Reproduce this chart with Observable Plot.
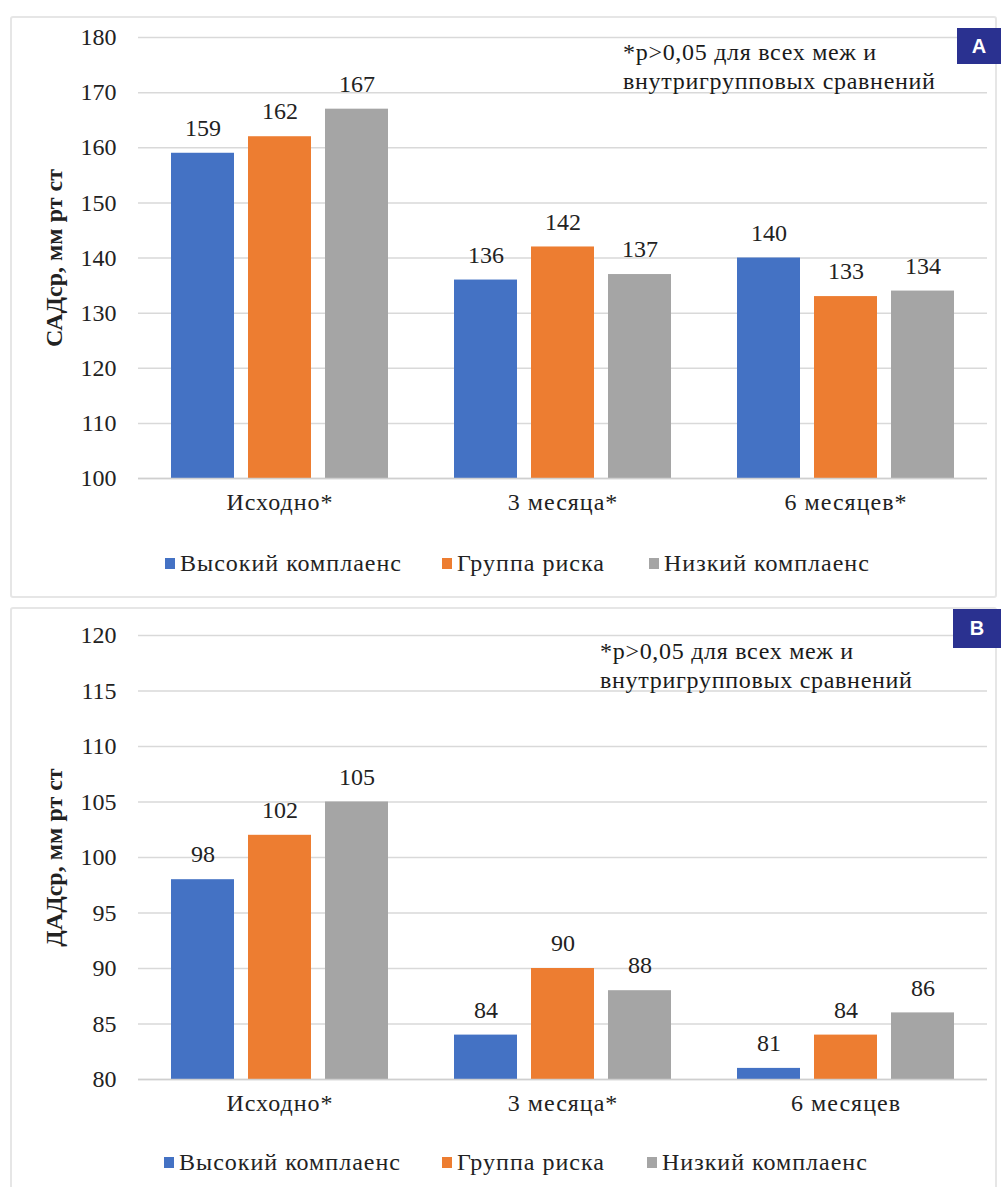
<!DOCTYPE html>
<html><head><meta charset="utf-8">
<script src="https://cdn.jsdelivr.net/npm/d3@7"></script>
<script src="https://cdn.jsdelivr.net/npm/@observablehq/plot@0.6"></script>
<style>
body{margin:0;background:#fff;}
#root{position:relative;width:1001px;height:1187px;overflow:hidden;font-family:"Liberation Serif","Times New Roman",serif;color:#222;}
.panel{position:absolute;left:10px;width:987px;border:2px solid #e6e6e6;border-radius:3px;box-sizing:border-box;}
.chart{position:absolute;left:0;}
.note{position:absolute;font-size:24px;line-height:29px;letter-spacing:0.7px;white-space:nowrap;color:#1a1a1a;}
.badge{position:absolute;background:#2a3190;color:#fff;font-family:"Liberation Sans",Arial,sans-serif;font-weight:bold;font-size:20px;display:flex;align-items:center;justify-content:center;}
.leg{position:absolute;display:flex;align-items:center;font-size:24px;letter-spacing:1px;line-height:30px;white-space:nowrap;color:#222;}
.sw{width:10px;height:11px;margin-right:5px;}
g[aria-label="fx-axis tick label"] text{letter-spacing:1px;}
</style>
</head><body>
<div id="root">
  <div class="panel" style="top:16px;height:582px;"></div>
  <div class="panel" style="top:607px;height:600px;"></div>
  <div class="chart" id="chartA" style="top:0px;"></div>
  <div class="chart" id="chartB" style="top:600px;"></div>
  <div class="note" style="left:623px;top:38px;">*p&gt;0,05 для всех меж и<br>внутригрупповых сравнений</div>
  <div class="note" style="left:600px;top:637px;">*p&gt;0,05 для всех меж и<br>внутригрупповых сравнений</div>
  <div class="badge" style="left:957px;top:28px;width:44px;height:36px;">A</div>
  <div class="badge" style="left:953px;top:609px;width:48px;height:39px;">B</div>
  <div id="legA"></div>
  <div id="legB"></div>
</div>
<script>
const groups = ["Высокий комплаенс", "Группа риска", "Низкий комплаенс"];
const colors = ["#4472c4", "#ed7d31", "#a5a5a5"];
const periodsA = ["Исходно*", "3 месяца*", "6 месяцев*"];
const periodsB = ["Исходно*", "3 месяца*", "6 месяцев"];
const sadHigh = [159, 136, 140];
const sadRisk = [162, 142, 133];
const sadLow = [167, 137, 134];
const dadHigh = [98, 84, 81];
const dadRisk = [102, 90, 84];
const dadLow = [105, 88, 86];
const ticksA = [100, 110, 120, 130, 140, 150, 160, 170, 180];
const ticksB = [80, 85, 90, 95, 100, 105, 110, 115, 120];
const yLabelA = "САДср, мм рт ст";
const yLabelB = "ДАДср, мм рт ст";

function rows(periods, series) {
  return periods.flatMap((p, i) => groups.map((g, j) => ({period: p, group: g, value: series[j][i]})));
}
const rowsA = rows(periodsA, [sadHigh, sadRisk, sadLow]);
const rowsB = rows(periodsB, [dadHigh, dadRisk, dadLow]);

function chart(data, periods, ticks, yLabel, marginTop, height) {
  const base = ticks[0];
  return Plot.plot({
    width: 1001, height, marginLeft: 137, marginRight: 13, marginTop, marginBottom: 42,
    style: {fontFamily: "'Liberation Serif', 'Times New Roman', serif", fontSize: "24px", color: "#222", background: "transparent", overflow: "visible"},
    fx: {domain: periods, padding: 0, label: null, axis: "bottom", tickSize: 0, tickPadding: 14},
    x: {domain: groups, paddingInner: 0.18, paddingOuter: 0.41, axis: null},
    y: {domain: [ticks[0], ticks[ticks.length - 1]]},
    color: {domain: groups, range: colors},
    marks: [
      Plot.gridY(ticks, {stroke: "#d9d9d9", strokeOpacity: 1, strokeWidth: 1.5}),
      Plot.axisY(ticks, {tickSize: 0, tickPadding: 22, label: null, fill: "#222"}),
      Plot.barY(data, {fx: "period", x: "group", y1: base, y2: "value", fill: "group"}),
      Plot.ruleY([base], {stroke: "#cfcfcf", strokeWidth: 1.5}),
      Plot.text(data, {fx: "period", x: "group", y: "value", text: d => String(d.value), dy: -25, lineAnchor: "middle", fill: "#222"}),
      Plot.text([yLabel], {fx: () => periods[0], frameAnchor: "left", text: d => d, rotate: -90, dx: -84, textAnchor: "middle", lineAnchor: "middle", fontWeight: "bold", fill: "#222"})
    ]
  });
}

document.getElementById("chartA").append(chart(rowsA, periodsA, ticksA, yLabelA, 37, 520));
document.getElementById("chartB").append(chart(rowsB, periodsB, ticksB, yLabelB, 35, 521));

function legend(id, top, lefts) {
  const root = document.getElementById(id);
  groups.forEach((g, i) => {
    const d = document.createElement("div");
    d.className = "leg";
    d.style.left = lefts[i] + "px";
    d.style.top = top + "px";
    const s = document.createElement("span");
    s.className = "sw";
    s.style.background = colors[i];
    d.append(s, document.createTextNode(g));
    root.append(d);
  });
}
legend("legA", 548, [165, 442, 649]);
legend("legB", 1147, [164, 442, 647]);
</script>
</body></html>
